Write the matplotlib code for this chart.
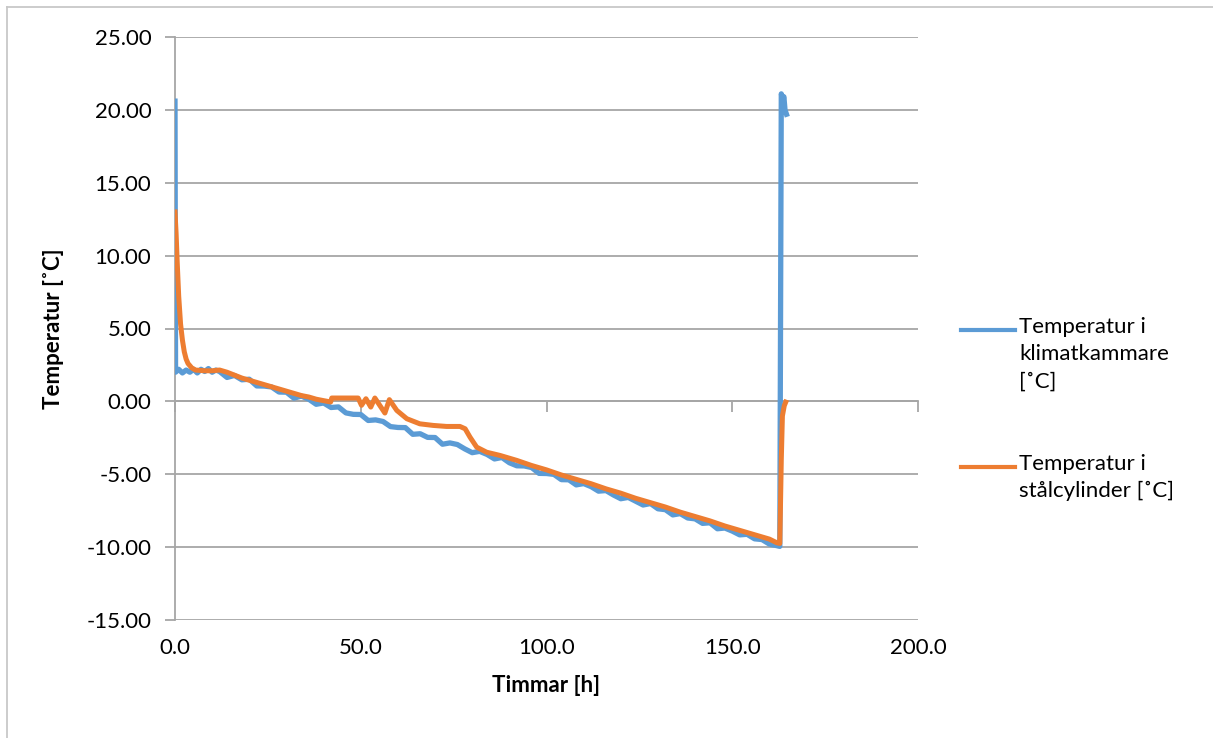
import matplotlib
matplotlib.use("Agg")
import matplotlib.pyplot as plt
from matplotlib.lines import Line2D
from matplotlib.ticker import FormatStrFormatter, MultipleLocator

plt.rcParams['font.family'] = ['Lato', 'DejaVu Sans']

# ---------------- Daten ----------------
# Temperatur i klimatkammare
blue_t = [0, 0.15, 1, 2, 3, 4, 5, 6, 7, 8, 9, 10, 11,
          12, 14, 16, 18, 20, 22, 24, 26, 28, 30, 32, 34, 36, 38, 40,
          42, 44, 46, 48, 50, 52, 54, 56, 58, 60, 62, 64, 66, 68, 70,
          72, 74, 76, 78, 80, 82, 84, 86, 88, 90, 92, 94, 96, 98, 100,
          102, 104, 106, 108, 110, 112, 114, 116, 118, 120, 122, 124, 126,
          128, 130, 132, 134, 136, 138, 140, 142, 144, 146, 148, 150, 152,
          154, 156, 158, 160, 162,
          162.8, 163.2, 163.6, 163.9, 164.2, 164.6]
blue_v = [20.6, 2.0, 2.2, 1.95, 2.15, 2.0, 2.2, 1.95, 2.2, 2.05, 2.25, 2.0, 2.15,
          2.05, 1.64, 1.78, 1.48, 1.52, 1.06, 1.05, 0.99, 0.64, 0.63, 0.22, 0.36, 0.15, -0.20, -0.11,
          -0.42, -0.38, -0.79, -0.89, -0.90, -1.31, -1.27, -1.38, -1.73, -1.79, -1.80, -2.26, -2.22, -2.47, -2.48,
          -2.94, -2.85, -2.96, -3.26, -3.52, -3.43, -3.64, -3.95, -3.85, -4.21, -4.42, -4.43, -4.54, -4.94, -4.95,
          -5.01, -5.37, -5.38, -5.73, -5.64, -5.85, -6.16, -6.12, -6.42, -6.68, -6.59, -6.85, -7.11,
          -7.01, -7.37, -7.43, -7.79, -7.70, -8.00, -8.06, -8.37, -8.33, -8.74, -8.69, -8.90, -9.16,
          -9.12, -9.43, -9.48, -9.79, -9.90,
          -9.95, 21.1, 20.7, 20.9, 20.0, 19.7]

# Temperatur i stålcylinder
orange_t = [0, 0.3, 0.6, 1.0, 1.5, 2.0, 2.5, 3.0, 3.5, 4.5, 5.5, 8, 10,
            12, 14, 16, 18, 20, 22, 24, 26, 28, 30, 32, 34, 36, 38, 40,
            41.9, 42.2, 49.3, 50.2, 51.4, 52.7, 53.8, 56.5, 57.7, 59.7, 62.4,
            65.9, 69.5, 73.1, 76.7, 78.1, 79.4, 81.2, 83.9, 87.5,
            92, 96, 100, 104, 108, 112, 116, 120, 124, 128, 132, 136, 140,
            144, 148, 152, 156, 160, 162,
            162.8, 163.2, 163.5, 164.0, 164.4]
orange_v = [13.0, 11.5, 9.5, 7.2, 5.3, 4.2, 3.4, 2.9, 2.6, 2.3, 2.15, 2.1, 2.1,
            2.15, 2.0, 1.8, 1.6, 1.45, 1.3, 1.15, 1.0, 0.85, 0.7, 0.55, 0.4, 0.3, 0.15, 0.05,
            -0.04, 0.23, 0.23, -0.27, 0.18, -0.39, 0.23, -0.80, 0.12, -0.62, -1.19,
            -1.54, -1.65, -1.72, -1.72, -1.88, -2.45, -3.14, -3.49, -3.71,
            -4.05, -4.40, -4.70, -5.05, -5.35, -5.65, -6.00, -6.30, -6.65, -6.95, -7.25, -7.60, -7.90,
            -8.20, -8.55, -8.85, -9.15, -9.45, -9.70,
            -9.75, -4.0, -1.0, -0.3, -0.05]

labels = ["Temperatur i\nklimatkammare\n[˚C]", "Temperatur i\nstålcylinder [˚C]"]
colors = ["#5B9BD5", "#ED7D31"]

GRID = "#a6a6a6"
FS = 16

# ---------------- Plot ----------------
fig = plt.figure(figsize=(12.13, 7.38), dpi=100)
ax = fig.add_axes([175 / 1213, 1 - 620 / 738, (918 - 175) / 1213, (620 - 37) / 738])

ax.plot(blue_t, blue_v, color=colors[0], lw=3.8, solid_joinstyle="round", zorder=3)
ax.plot(orange_t, orange_v, color=colors[1], lw=3.6, solid_joinstyle="round", zorder=4)

ax.set_xlim(0, 200)
ax.set_ylim(-15, 25)
ax.yaxis.set_major_locator(MultipleLocator(5))
ax.yaxis.set_major_formatter(FormatStrFormatter("%.2f"))
ax.xaxis.set_major_locator(MultipleLocator(50))
ax.grid(True, axis="y", color=GRID, lw=1.3)
ax.set_axisbelow(True)

for s in ["top", "right"]:
    ax.spines[s].set_visible(False)
ax.spines["left"].set_color(GRID)
ax.spines["left"].set_linewidth(1.3)
ax.spines["bottom"].set_position(("data", 0))
ax.spines["bottom"].set_color(GRID)
ax.spines["bottom"].set_linewidth(1.3)

ax.tick_params(axis="y", length=7, width=1.3, color=GRID, labelsize=FS, pad=10)
ax.tick_params(axis="x", length=8, width=1.3, color=GRID, labelbottom=False)

# Beschriftung der x-Achse unten
secx = ax.secondary_xaxis(0)
secx.xaxis.set_major_locator(MultipleLocator(50))
secx.xaxis.set_major_formatter(FormatStrFormatter("%.1f"))
secx.spines["bottom"].set_visible(False)
secx.tick_params(axis="x", length=0, labelsize=FS, pad=13)
secx.set_xlabel("Timmar [h]", fontsize=FS, fontweight="bold", labelpad=12)

ax.set_ylabel("Temperatur [˚C]", fontsize=FS, fontweight="bold", labelpad=16)

# Legende (rechts, Linie auf Höhe der ersten Textzeile)
leg_y = [330, 467]
for lab, col, yy in zip(labels, colors, leg_y):
    y = 1 - yy / 738
    fig.add_artist(Line2D([961 / 1213, 1015 / 1213], [y, y], color=col, lw=3))
    fig.text(1019 / 1213, y + 13 / 738, lab, fontsize=FS, va="top", ha="left",
             linespacing=1.45)

# Rahmen
fig.add_artist(Line2D([7 / 1213, 7 / 1213], [0, 1 - 7 / 738], color="#c8c8c8", lw=1.3))
fig.add_artist(Line2D([7 / 1213, 1], [1 - 7 / 738, 1 - 7 / 738], color="#c8c8c8", lw=1.3))

fig.savefig("out.png", dpi=100)
